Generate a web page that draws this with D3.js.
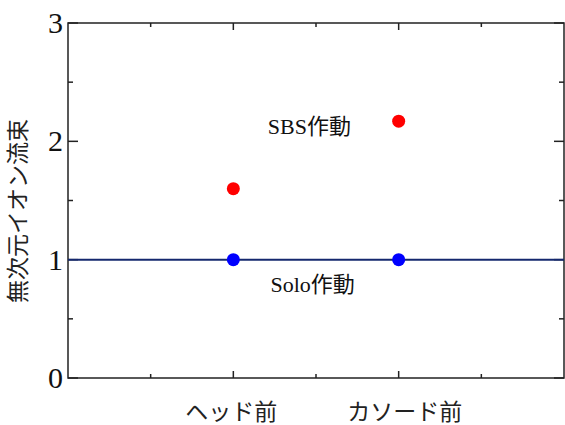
<!DOCTYPE html>
<html><head><meta charset="utf-8">
<script src="https://cdn.jsdelivr.net/npm/d3@7"></script>
<style>body{margin:0;background:#fff}svg{display:block}</style>
</head><body>
<svg id="c" width="565" height="425"></svg>
<script>
const categories = ["ヘッド前", "カソード前"];
const categoryPos = [1, 2];
const sbsValues = [1.6, 2.17];
const soloValues = [1.0, 1.0];
const baselineValue = 1;
const yTicks = [0, 1, 2, 3];
const yMinorTicks = [0.5, 1.5, 2.5];
const xMinorTicks = [0.5, 1.5, 2.5];
const yTitle = "無次元イオン流束";
const annotations = [{text: "SBS作動", x: 1.46, y: 2.06}, {text: "Solo作動", x: 1.48, y: 0.73}];

const svg = d3.select("#c");
const L = 68, R = 564, T = 23, B = 378;
const x = d3.scaleLinear().domain([0, 3]).range([L, R]);
const y = d3.scaleLinear().domain([0, 3]).range([B, T]);
const serif = "'Liberation Serif','Times New Roman',serif";
const cjk = "'Liberation Serif','Noto Sans CJK JP',serif";
const labelShift = [-2, 6];

// frame
svg.append("rect").attr("x", L).attr("y", T).attr("width", R - L).attr("height", B - T)
  .attr("fill", "none").attr("stroke", "#222").attr("stroke-width", 1.5);

// y ticks (inward, left and right)
const tk = svg.append("g").attr("stroke", "#222").attr("stroke-width", 1.5);
yTicks.concat(yMinorTicks).forEach(v => {
  const major = yTicks.includes(v);
  tk.append("line").attr("x1", L).attr("x2", L + (major ? 10 : 5)).attr("y1", y(v)).attr("y2", y(v));
  tk.append("line").attr("x1", R).attr("x2", R - (major ? 10 : 5)).attr("y1", y(v)).attr("y2", y(v));
});
// x ticks (inward, bottom and top)
categoryPos.concat(xMinorTicks).forEach(v => {
  const major = categoryPos.includes(v);
  tk.append("line").attr("x1", x(v)).attr("x2", x(v)).attr("y1", B).attr("y2", B - (major ? 7 : 4));
  tk.append("line").attr("x1", x(v)).attr("x2", x(v)).attr("y1", T).attr("y2", T + (major ? 7 : 4));
});

// y tick labels
svg.append("g").selectAll("text").data(yTicks).join("text")
  .attr("x", L - 5).attr("y", d => y(d) + 10).attr("text-anchor", "end")
  .attr("font-family", serif).attr("font-size", 30).attr("fill", "#111").text(d => d);

// x category labels
svg.append("g").selectAll("text").data(categories).join("text")
  .attr("x", (d, i) => x(categoryPos[i]) + labelShift[i]).attr("y", 420).attr("text-anchor", "middle")
  .attr("font-family", cjk).attr("font-size", 23).attr("fill", "#222").text(d => d);

// y title
svg.append("text").attr("transform", `translate(26,211) rotate(-90)`)
  .attr("text-anchor", "middle").attr("font-family", cjk).attr("font-size", 23)
  .attr("fill", "#222").text(yTitle);

// baseline
svg.append("line").attr("x1", L).attr("x2", R).attr("y1", y(baselineValue)).attr("y2", y(baselineValue))
  .attr("stroke", "#14286e").attr("stroke-width", 2);

// points
svg.append("g").selectAll("circle").data(sbsValues).join("circle")
  .attr("cx", (d, i) => x(categoryPos[i])).attr("cy", d => y(d)).attr("r", 6.5).attr("fill", "#ff0000");
svg.append("g").selectAll("circle").data(soloValues).join("circle")
  .attr("cx", (d, i) => x(categoryPos[i])).attr("cy", d => y(d)).attr("r", 6.5).attr("fill", "#0000ff");

// annotations
svg.append("g").selectAll("text").data(annotations).join("text")
  .attr("x", d => x(d.x)).attr("y", d => y(d.y)).attr("text-anchor", "middle")
  .attr("font-family", cjk).attr("font-size", 22).attr("fill", "#111").text(d => d.text);
</script>
</body></html>
